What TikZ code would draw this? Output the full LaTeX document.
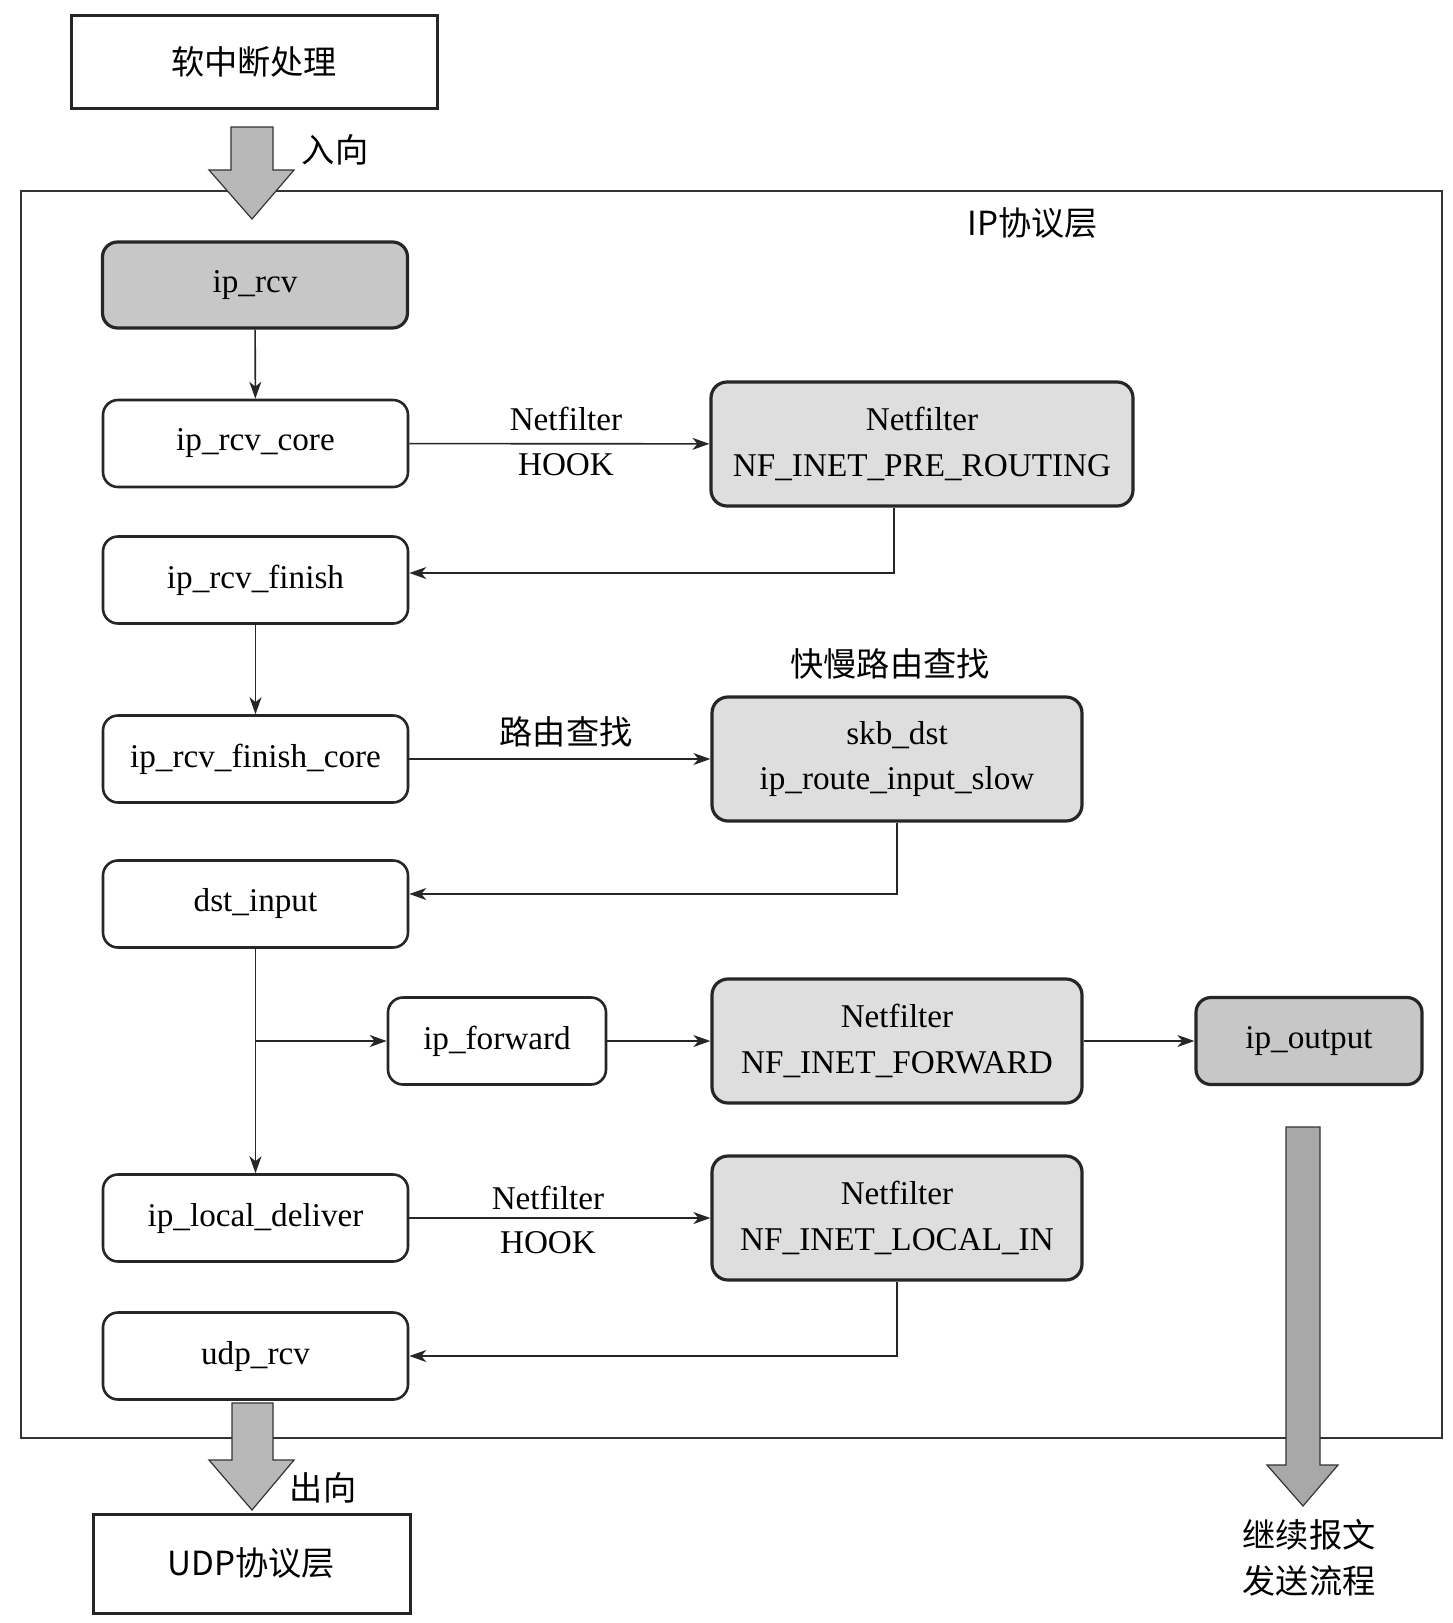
\documentclass[tikz,border=0pt]{standalone}
\usepackage{fontspec}
\setmainfont{Liberation Serif}
\newfontfamily\cjk{Noto Sans CJK SC}
\usetikzlibrary{arrows.meta}

\tikzset{
  func/.style={draw=black!85, line width=1.3pt, rounded corners=7.5pt, fill=white,
    minimum width=152.5pt, minimum height=43.5pt, inner sep=0pt},
  mainfunc/.style={func, fill=black!22, line width=1.6pt},
  hookbox/.style={draw=black!85, line width=1.6pt, rounded corners=8pt, fill=black!13,
    minimum height=62pt, align=center, inner sep=0pt},
  layerbox/.style={draw=black!85, line width=1.5pt, fill=white, inner sep=0pt},
  flow/.style={-{Stealth[length=8.5pt,width=6pt,inset=2.5pt]}, line width=0.8pt, draw=black!85},
  fatarrow/.style={draw=black!80, line width=0.6pt, fill=black!28},
}

\begin{document}
\begin{tikzpicture}[x=0.5pt, y=-0.5pt, font=\fontsize{16.6}{22.8}\selectfont]
\useasboundingbox (0,0) rectangle (1452,1623);

% IP layer frame
\draw [line width=0.75pt, draw=black!80] (21,191) rectangle (1442,1438);
\node (iplayer) at (1033,223) {\cjk IP协议层};

\node [layerbox, minimum width=183pt, minimum height=46.5pt] (softirq) at (254,61.5) {\cjk 软中断处理};
\node [layerbox, minimum width=158.5pt, minimum height=49.5pt] (udplayer) at (251.5,1563.5) {\cjk UDP协议层};

% fat arrows
\draw [fatarrow] (231,127) -- (273,127) -- (273,170) -- (294,170) -- (252,219)
    -- (209,170) -- (231,170) -- cycle;
\node (inlbl) at (335,150) {\cjk 入向};
\draw [fatarrow] (232,1403) -- (273,1403) -- (273,1460) -- (294,1460) -- (252,1510)
    -- (209,1460) -- (232,1460) -- cycle;
\node (outlbl) at (323,1488) {\cjk 出向};
\draw [fatarrow, fill=black!34] (1286,1127) -- (1320,1127) -- (1320,1465) -- (1338,1465)
    -- (1303,1506) -- (1267,1465) -- (1286,1465) -- cycle;
\node [align=center, font=\cjk\fontsize{16.6}{23}\selectfont] (contlbl) at (1309,1558) {继续报文\\发送流程};

% left column
\node [mainfunc, minimum height=43pt] (rcv) at (255,285) {ip\_rcv};
\node [func] (core)    at (255.5,443.5) {ip\_rcv\_core};
\node [func] (finish)  at (255.5,580)   {ip\_rcv\_finish};
\node [func] (fcore)   at (255.5,759)   {ip\_rcv\_finish\_core};
\node [func] (dstin)   at (255.5,904)   {dst\_input};
\node [func] (deliver) at (255.5,1218)  {ip\_local\_deliver};
\node [func] (udp)     at (255.5,1356)  {udp\_rcv};

% right column
\node [hookbox, minimum width=211pt] (prert) at (922,444) {Netfilter\\NF\_INET\_PRE\_ROUTING};
\node [hookbox, minimum width=185pt] (route) at (897,759) {skb\_dst\\ip\_route\_input\_slow};
\node [hookbox, minimum width=185pt] (fwdhook) at (897,1041) {Netfilter\\NF\_INET\_FORWARD};
\node [hookbox, minimum width=185pt] (localin) at (897,1218) {Netfilter\\NF\_INET\_LOCAL\_IN};
\node [func, minimum width=109pt] (fwd) at (497,1041) {ip\_forward};
\node [mainfunc, minimum width=113pt] (out) at (1309,1041) {ip\_output};

% labels
\node (hooka) at (566,419) {Netfilter};
\node (hookb) at (566,465) {HOOK};
\node (routelbl) at (566,732) {\cjk 路由查找};
\node (slowlbl) at (890,664) {\cjk 快慢路由查找};
\node (hookc) at (548,1198) {Netfilter};
\node (hookd) at (548,1243) {HOOK};

% connectors
\draw [flow] (rcv) -- (core);
\draw [flow] (core) -- (prert);
\draw [flow] ([xshift=-14pt]prert.south) |- ([yshift=3.5pt]finish.east);
\draw [flow] (finish) -- (fcore);
\draw [flow] (fcore) -- (route);
\draw [flow] (route) |- ([yshift=5pt]dstin.east);
\draw [flow] (dstin) -- (deliver);
\coordinate (split) at (dstin.south |- fwd.west);
\draw [flow] (split) -- (fwd);
\draw [flow] (fwd) -- (fwdhook);
\draw [flow] (fwdhook) -- (out);
\draw [flow] (deliver) -- (localin);
\draw [flow] (localin) |- (udp);
\end{tikzpicture}
\end{document}
